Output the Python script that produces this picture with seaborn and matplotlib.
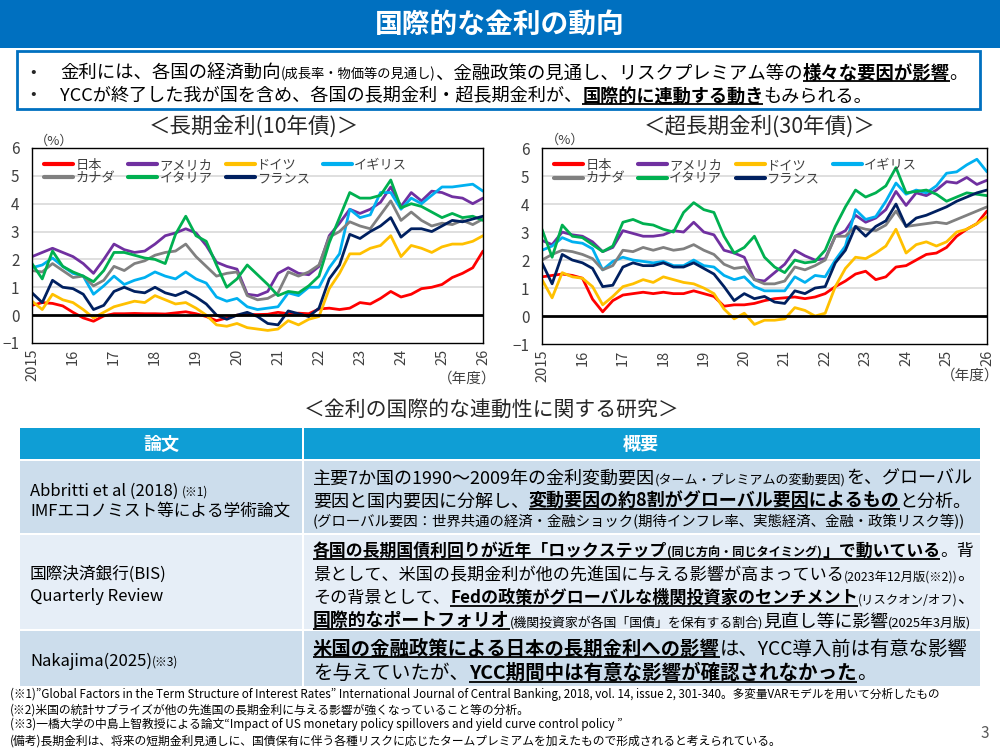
import numpy as np
import pandas as pd
import matplotlib
matplotlib.use("Agg")
import matplotlib.pyplot as plt
import seaborn as sns
from matplotlib.lines import Line2D
from matplotlib.patches import Rectangle

# ---------------- data (quarterly readings, calendar year axis) ----------------
YEARS = np.arange(2015, 2026.01, 0.25)
COUNTRIES = ["日本", "アメリカ", "ドイツ", "イギリス", "カナダ", "イタリア", "フランス"]
COLORS = ["#FF0000", "#7030A0", "#FFC000", "#00B0F0", "#808080", "#00B050", "#002060"]

# 10-year yields (%)
JP10 = [0.35, 0.45, 0.42, 0.33, 0.10, -0.10, -0.22, -0.03, 0.05, 0.05, 0.06, 0.05,
        0.05, 0.04, 0.08, 0.12, 0.05, -0.05, -0.20, -0.10, 0.00, 0.02, 0.02, 0.03,
        0.10, 0.05, 0.07, 0.05, 0.22, 0.25, 0.20, 0.25, 0.45, 0.40, 0.60, 0.85,
        0.65, 0.75, 0.95, 1.00, 1.10, 1.35, 1.50, 1.70, 2.30]
US10 = [2.10, 2.25, 2.40, 2.25, 2.10, 1.85, 1.50, 2.00, 2.55, 2.35, 2.25, 2.30,
        2.55, 2.85, 2.95, 3.10, 2.95, 2.50, 1.90, 1.75, 1.65, 0.75, 0.70, 0.85,
        1.50, 1.70, 1.50, 1.45, 1.75, 2.85, 3.30, 3.80, 3.65, 3.80, 4.05, 4.60,
        3.90, 4.40, 4.10, 4.45, 4.40, 4.25, 4.20, 4.00, 4.20]
DE10 = [0.50, 0.20, 0.75, 0.55, 0.45, 0.20, -0.10, 0.10, 0.30, 0.40, 0.50, 0.45,
        0.70, 0.55, 0.40, 0.45, 0.25, 0.00, -0.35, -0.40, -0.30, -0.45, -0.50, -0.55,
        -0.50, -0.20, -0.35, -0.15, -0.05, 0.95, 1.50, 2.20, 2.20, 2.40, 2.50, 2.85,
        2.10, 2.50, 2.40, 2.25, 2.45, 2.55, 2.55, 2.65, 2.85]
UK10 = [1.70, 1.80, 2.05, 1.75, 1.50, 1.40, 0.75, 1.05, 1.40, 1.10, 1.25, 1.35,
        1.55, 1.40, 1.30, 1.55, 1.30, 1.15, 0.65, 0.50, 0.60, 0.30, 0.20, 0.25,
        0.30, 0.80, 0.70, 1.00, 1.00, 1.70, 2.20, 3.80, 3.50, 3.60, 4.40, 4.40,
        3.80, 4.20, 4.00, 4.30, 4.60, 4.60, 4.65, 4.70, 4.45]
CA10 = [1.60, 1.55, 1.85, 1.60, 1.35, 1.40, 1.05, 1.25, 1.75, 1.60, 1.85, 1.95,
        2.15, 2.25, 2.30, 2.55, 2.10, 1.75, 1.40, 1.50, 1.55, 0.70, 0.55, 0.60,
        0.80, 1.55, 1.40, 1.55, 1.80, 2.80, 3.00, 3.35, 3.20, 3.10, 3.60, 4.10,
        3.40, 3.70, 3.40, 3.20, 3.30, 3.25, 3.40, 3.25, 3.45]
IT10 = [1.85, 1.30, 2.30, 1.75, 1.55, 1.40, 1.20, 1.60, 2.25, 2.25, 2.15, 2.05,
        2.00, 1.85, 2.90, 3.55, 2.85, 2.65, 1.80, 1.00, 1.30, 1.80, 1.45, 1.10,
        0.70, 0.85, 0.80, 1.05, 1.40, 2.60, 3.50, 4.40, 4.20, 4.20, 4.30, 4.85,
        3.85, 4.00, 3.90, 3.70, 3.50, 3.65, 3.50, 3.55, 3.40]
FR10 = [0.80, 0.45, 1.25, 1.00, 0.95, 0.75, 0.20, 0.35, 0.85, 1.00, 0.85, 0.80,
        1.00, 0.80, 0.70, 0.85, 0.65, 0.40, 0.00, -0.15, 0.00, 0.10, -0.05, -0.30,
        -0.35, 0.15, 0.05, -0.05, 0.25, 1.30, 1.80, 2.90, 2.75, 3.00, 3.20, 3.50,
        2.80, 3.10, 3.10, 3.00, 3.20, 3.40, 3.35, 3.45, 3.55]

# 30-year yields (%)
JP30 = [1.40, 1.45, 1.50, 1.45, 1.35, 0.60, 0.15, 0.55, 0.75, 0.80, 0.85, 0.80,
        0.85, 0.80, 0.80, 0.90, 0.80, 0.70, 0.35, 0.40, 0.40, 0.45, 0.55, 0.62,
        0.65, 0.68, 0.62, 0.68, 0.80, 1.05, 1.25, 1.50, 1.60, 1.30, 1.40, 1.75,
        1.80, 2.00, 2.20, 2.25, 2.45, 2.85, 3.10, 3.30, 3.75]
US30 = [2.70, 2.55, 3.00, 2.90, 2.85, 2.65, 2.30, 2.45, 3.05, 2.95, 2.85, 2.85,
        2.90, 3.05, 3.00, 3.35, 3.00, 2.90, 2.35, 2.25, 2.10, 1.30, 1.25, 1.55,
        1.85, 2.35, 2.15, 2.00, 2.05, 2.85, 3.05, 3.60, 3.35, 3.50, 3.80, 4.45,
        3.95, 4.40, 4.30, 4.50, 4.80, 4.75, 4.95, 4.70, 4.85]
DE30 = [1.30, 0.65, 1.55, 1.40, 1.35, 1.05, 0.40, 0.70, 1.05, 1.15, 1.30, 1.20,
        1.40, 1.30, 1.20, 1.15, 1.00, 0.80, 0.25, -0.10, 0.10, -0.30, -0.15, -0.15,
        -0.10, 0.30, 0.20, 0.00, 0.10, 1.05, 1.70, 2.10, 2.05, 2.25, 2.50, 3.10,
        2.25, 2.55, 2.65, 2.50, 2.65, 3.00, 3.10, 3.30, 3.55]
UK30 = [2.35, 2.50, 2.80, 2.65, 2.60, 2.40, 1.65, 1.95, 2.10, 2.00, 1.95, 1.90,
        1.95, 1.80, 1.80, 2.00, 1.80, 1.75, 1.45, 1.30, 1.40, 1.05, 0.90, 0.90,
        0.90, 1.40, 1.20, 1.45, 1.40, 2.00, 2.50, 3.80, 3.45, 3.55, 4.10, 4.75,
        4.35, 4.50, 4.40, 4.65, 5.10, 5.15, 5.40, 5.60, 5.15]
CA30 = [2.00, 2.20, 2.35, 2.30, 2.20, 2.05, 1.65, 1.80, 2.35, 2.30, 2.45, 2.35,
        2.45, 2.35, 2.40, 2.55, 2.35, 2.20, 1.85, 1.70, 1.75, 1.30, 1.15, 1.15,
        1.25, 1.75, 1.65, 1.80, 2.00, 2.85, 2.85, 3.20, 3.10, 3.05, 3.25, 3.75,
        3.20, 3.25, 3.30, 3.35, 3.30, 3.45, 3.60, 3.75, 3.90]
IT30 = [3.10, 2.10, 3.25, 2.85, 2.80, 2.55, 2.30, 2.50, 3.35, 3.45, 3.30, 3.25,
        3.10, 3.00, 3.70, 4.05, 3.80, 3.70, 2.85, 2.25, 2.45, 2.85, 2.10, 1.75,
        1.55, 2.00, 1.90, 1.95, 2.35, 3.20, 3.90, 4.50, 4.25, 4.40, 4.65, 5.30,
        4.40, 4.45, 4.50, 4.35, 4.10, 4.25, 4.40, 4.35, 4.30]
FR30 = [1.90, 1.15, 2.20, 2.00, 1.90, 1.70, 1.05, 1.10, 1.75, 1.90, 1.80, 1.80,
        1.90, 1.75, 1.75, 1.90, 1.70, 1.50, 1.05, 0.55, 0.80, 0.62, 0.70, 0.50,
        0.45, 0.90, 0.80, 1.00, 1.05, 1.90, 2.35, 3.20, 2.85, 3.20, 3.40, 4.00,
        3.20, 3.50, 3.60, 3.75, 3.90, 4.10, 4.25, 4.40, 4.50]

XTICKS = list(range(2015, 2027))
XTICKLABELS = ["2015", "16", "17", "18", "19", "20", "21", "22", "23", "24", "25", "26"]
YTICKS = [-1, 0, 1, 2, 3, 4, 5, 6]

TITLE = "国際的な金利の動向"
CHART_TITLES = ["＜長期金利(10年債)＞", "＜超長期金利(30年債)＞"]

# ---------------- style ----------------
sns.set_theme(style="white")
FONT = ["Noto Sans CJK JP", "DejaVu Sans"]
plt.rcParams["font.family"] = FONT
plt.rcParams["axes.unicode_minus"] = True

fig = plt.figure(figsize=(10, 7.5), dpi=100)
bg = fig.add_axes([0, 0, 1, 1], zorder=0)
bg.set_xlim(0, 1000)
bg.set_ylim(750, 0)
bg.axis("off")
renderer = fig.canvas.get_renderer()
PX = 100 / 72.0


def draw_runs(x, yc, parts, size, max_w=None, color="black", small=0.72):
    """Draw a line made of several styled runs. flags: s=small, b=bold, u=underline."""
    def fsize(fl, sc):
        f = size * sc
        if "s" in fl:
            f *= small
        return f

    def width(sc):
        tot = 0
        for txt, fl in parts:
            t = bg.text(0, 0, txt, fontsize=fsize(fl, sc),
                        fontweight="bold" if "b" in fl else "normal")
            tot += t.get_window_extent(renderer).width
            t.remove()
        return tot

    sc = 1.0
    if max_w is not None:
        w = width(1.0)
        if w > max_w:
            sc = max_w / w
    base = yc + 0.36 * size * sc * PX
    cx = x
    for txt, fl in parts:
        t = bg.text(cx, base, txt, fontsize=fsize(fl, sc), color=color,
                    fontweight="bold" if "b" in fl else "normal",
                    ha="left", va="baseline")
        w = t.get_window_extent(renderer).width
        if "u" in fl:
            bg.plot([cx, cx + w], [base + 2.5, base + 2.5], color=color, lw=1.3,
                    solid_capstyle="butt")
        cx += w
    return cx


# ---------------- header ----------------
bg.add_patch(Rectangle((0, 0), 1000, 48, color="#0070C0", lw=0))
bg.text(500, 25, TITLE, color="white", fontsize=20, fontweight="bold",
        ha="center", va="center")
bg.add_patch(Rectangle((17, 51), 963, 58, facecolor="white", edgecolor="#0070C0", lw=2))
bg.text(30, 72, "•", fontsize=12, ha="left", va="center")
bg.text(30, 95, "•", fontsize=12, ha="left", va="center")
draw_runs(60, 72, [("金利には、各国の経済動向", ""), ("(成長率・物価等の見通し)", "s"),
                   ("、金融政策の見通し、リスクプレミアム等の", ""), ("様々な要因が影響", "bu"),
                   ("。", "")], 13.5, max_w=910)
draw_runs(60, 95, [("YCCが終了した我が国を含め、各国の長期金利・超長期金利が、", ""),
                   ("国際的に連動する動き", "bu"), ("もみられる。", "")], 13.5, max_w=815)

# ---------------- charts ----------------
SERIES = [
    dict(zip(COUNTRIES, [JP10, US10, DE10, UK10, CA10, IT10, FR10])),
    dict(zip(COUNTRIES, [JP30, US30, DE30, UK30, CA30, IT30, FR30])),
]
RECTS = [[0.032, 0.5427, 0.451, 0.260], [0.542, 0.5413, 0.445, 0.2613]]
PALETTE = dict(zip(COUNTRIES, COLORS))
LEG_ORDER = ["日本", "カナダ", "アメリカ", "イタリア", "ドイツ", "フランス", "イギリス"]

for i, (rect, ser) in enumerate(zip(RECTS, SERIES)):
    ax = fig.add_axes(rect, zorder=2)
    df = pd.concat([pd.DataFrame({"year": YEARS, "rate": v, "country": k})
                    for k, v in ser.items()], ignore_index=True)
    for v in [1, 2, 3, 4, 5]:
        ax.axhline(v, color="#D9D9D9", lw=1.2, zorder=0.5)
    sns.lineplot(data=df, x="year", y="rate", hue="country", hue_order=COUNTRIES,
                 palette=PALETTE, linewidth=2.0, legend=False, estimator=None,
                 sort=False, ax=ax)
    ax.axhline(0, color="black", lw=2, zorder=5)
    ax.set_xlim(2015, 2026)
    ax.set_ylim(-1, 6)
    ax.set_yticks(YTICKS)
    ax.set_xticks(XTICKS)
    ax.set_xticklabels(XTICKLABELS, rotation=90)
    ax.set_xlabel("")
    ax.set_ylabel("")
    ax.tick_params(axis="y", length=0, labelsize=11, pad=9, colors="#404040")
    ax.tick_params(axis="x", length=0, labelsize=10.5, pad=4, colors="#404040")
    for sp in ax.spines.values():
        sp.set_color("black")
        sp.set_linewidth(1.0)
    handles = [Line2D([], [], color=PALETTE[c], lw=3) for c in LEG_ORDER]
    leg = ax.legend(handles, LEG_ORDER, ncol=4, loc="upper left",
                    bbox_to_anchor=(0.01, 0.985), frameon=False, fontsize=9.5,
                    handlelength=2.2, handletextpad=0.15, columnspacing=1.0,
                    labelspacing=0.02, borderaxespad=0.2)
    for t in leg.get_texts():
        t.set_color("#404040")

# chart titles and unit labels
bg.text(254, 127, CHART_TITLES[0], fontsize=15.5, ha="center", va="center")
bg.text(760, 127, CHART_TITLES[1], fontsize=15.5, ha="center", va="center")
bg.text(54, 141, "（%）", fontsize=9.5, ha="center", va="center", color="#404040")
bg.text(565, 140, "（%）", fontsize=9.5, ha="center", va="center", color="#404040")
bg.text(467, 379, "（年度）", fontsize=10.5, ha="center", va="center", color="#404040")
bg.text(970, 376, "（年度）", fontsize=10.5, ha="center", va="center", color="#404040")

# ---------------- table ----------------
bg.text(492, 410, "＜金利の国際的な連動性に関する研究＞", fontsize=15, ha="center", va="center")
HDR = "#0F9ED5"
ROW_A = "#CCDDEC"
ROW_B = "#E6EEF7"
bg.add_patch(Rectangle((20, 428), 282, 31, color=HDR, lw=0))
bg.add_patch(Rectangle((304, 428), 676, 31, color=HDR, lw=0))
for (y0, y1, c) in [(461, 533, ROW_A), (535, 629, ROW_B), (631, 686, ROW_A)]:
    bg.add_patch(Rectangle((20, y0), 282, y1 - y0, color=c, lw=0))
    bg.add_patch(Rectangle((304, y0), 676, y1 - y0, color=c, lw=0))
bg.text(161, 444, "論文", color="white", fontsize=13, fontweight="bold", ha="center", va="center")
bg.text(641, 444, "概要", color="white", fontsize=13, fontweight="bold", ha="center", va="center")

# left column
draw_runs(30, 490, [("Abbritti et al (2018) ", ""), ("(※1)", "s")], 12)
draw_runs(30, 510, [("IMFエコノミスト等による学術論文", "")], 12)
draw_runs(30, 573, [("国際決済銀行(BIS)", "")], 12)
draw_runs(30, 595, [("Quarterly Review", "")], 12)
draw_runs(30, 660, [("Nakajima(2025)", ""), ("(※3)", "s")], 12)

# right column
RX, RW = 313, 660
draw_runs(RX, 477, [("主要7か国の1990～2009年の金利変動要因", ""),
                    ("(ターム・プレミアムの変動要因)", "s"), ("を、グローバル", "")], 13, max_w=RW)
draw_runs(RX, 500, [("要因と国内要因に分解し、", ""),
                    ("変動要因の約8割がグローバル要因によるもの", "bu"), ("と分析。", "")], 13, max_w=RW)
draw_runs(RX, 521, [("(グローバル要因：世界共通の経済・金融ショック(期待インフレ率、実態経済、金融・政策リスク等))", "")],
          10.5, max_w=RW - 5)

draw_runs(RX, 550, [("各国の長期国債利回りが近年「ロックステップ", "bu"),
                    ("(同じ方向・同じタイミング)", "bus"), ("」で動いている", "bu"), ("。背", "")],
          13, max_w=RW)
draw_runs(RX, 574, [("景として、米国の長期金利が他の先進国に与える影響が高まっている", ""),
                    ("(2023年12月版(※2))", "s"), ("。", "")], 13, max_w=RW)
draw_runs(RX, 597, [("その背景として、", ""),
                    ("Fedの政策がグローバルな機関投資家のセンチメント", "bu"),
                    ("(リスクオン/オフ)", "s"), ("、", "")], 13, max_w=RW)
draw_runs(RX, 620, [("国際的なポートフォリオ", "bu"),
                    ("(機関投資家が各国「国債」を保有する割合)", "s"),
                    ("見直し等に影響", ""), ("(2025年3月版)", "s")], 13, max_w=RW)

draw_runs(RX, 648, [("米国の金融政策による日本の長期金利への影響", "bu"),
                    ("は、YCC導入前は有意な影響", "")], 14, max_w=RW - 5)
draw_runs(RX, 672, [("を与えていたが、", ""),
                    ("YCC期間中は有意な影響が確認されなかった", "bu"), ("。", "")], 14, max_w=RW)

# ---------------- footnotes ----------------
FOOTNOTES = [
    "(※1)”Global Factors in the Term Structure of Interest Rates” International Journal of Central Banking, 2018, vol. 14, issue 2, 301-340。多変量VARモデルを用いて分析したもの",
    "(※2)米国の統計サプライズが他の先進国の長期金利に与える影響が強くなっていること等の分析。",
    "(※3)一橋大学の中島上智教授による論文“Impact of US monetary policy spillovers and yield curve control policy ”",
    "(備考)長期金利は、将来の短期金利見通しに、国債保有に伴う各種リスクに応じたタームプレミアムを加えたもので形成されると考えられている。",
]
for yy, txt in zip([694, 709, 724, 740], FOOTNOTES):
    draw_runs(10, yy, [(txt, "")], 8.5, max_w=930)
bg.text(985, 733, "3", fontsize=11, color="#595959", ha="center", va="center")

fig.savefig("out.png", dpi=100)
